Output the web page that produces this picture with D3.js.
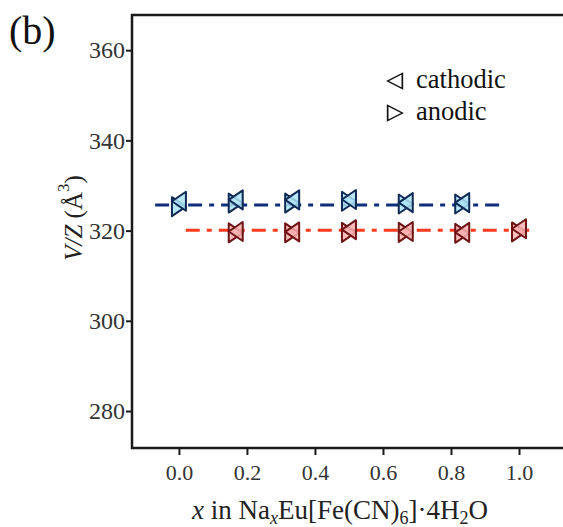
<!DOCTYPE html>
<html>
<head>
<meta charset="utf-8">
<script src="https://cdn.jsdelivr.net/npm/d3@7"></script>
<style>
  html, body { margin: 0; padding: 0; background: #fff; }
  svg { display: block; }
</style>
</head>
<body>
<svg id="chart" width="563" height="527"></svg>
<script>
// Sodium content x and unit-cell volume per formula unit V/Z (Å^3)
const xBlue = [0.0, 0.167, 0.333, 0.5, 0.667, 0.833];
const blueCathodic = [326.5, 326.8, 326.8, 326.9, 326.2, 326.2];
const blueAnodic   = [325.3, 326.1, 326.1, 326.5, 325.9, 325.9];
const blueMean = 325.7;

const xRed = [0.167, 0.333, 0.5, 0.667, 0.833, 1.0];
const redCathodic = [319.8, 319.7, 320.2, 319.8, 319.6, 320.4];
const redAnodic   = [319.5, 319.5, 319.6, 319.6, 319.4, 319.7];
const redMean = 320.1;

const xTicks = [0.0, 0.2, 0.4, 0.6, 0.8, 1.0];
const yTicks = [280, 300, 320, 340, 360];

const svg = d3.select("#chart");
const plotLeft = 132, plotTop = 15, plotBottom = 448, plotRight = 620;

const x = d3.scaleLinear().domain([-0.138, 1.297]).range([plotLeft, plotRight]);
const y = d3.scaleLinear().domain([271.8, 367.8]).range([plotBottom, plotTop]);

const serif = "'Liberation Serif', 'Times New Roman', serif";

// frame
svg.append("rect")
  .attr("x", plotLeft).attr("y", plotTop)
  .attr("width", plotRight - plotLeft).attr("height", plotBottom - plotTop)
  .attr("fill", "none").attr("stroke", "#1a1a1a").attr("stroke-width", 2.5);

// axes
const yAxis = svg.append("g")
  .attr("transform", `translate(${plotLeft},0)`)
  .call(d3.axisLeft(y).tickValues(yTicks).tickSize(6).tickPadding(1).tickFormat(d3.format("d")));
const xAxis = svg.append("g")
  .attr("transform", `translate(0,${plotBottom})`)
  .call(d3.axisBottom(x).tickValues(xTicks).tickSize(7).tickPadding(9).tickFormat(d3.format(".1f")));
[xAxis, yAxis].forEach(g => {
  g.select(".domain").remove();
  g.selectAll(".tick line").attr("stroke", "#1a1a1a").attr("stroke-width", 2);
  g.selectAll(".tick text").attr("fill", "#333").style("font-family", serif);
});
yAxis.selectAll(".tick text").style("font-size", "24px");
xAxis.selectAll(".tick text").style("font-size", "22px");

// triangle paths: left-pointing (cathodic) and right-pointing (anodic)
const tw = 14, th = 19;
const triLeft = `M${tw/2},${-th/2}L${tw/2},${th/2}L${-tw/2},0Z`;
const triRight = `M${-tw/2},${-th/2}L${-tw/2},${th/2}L${tw/2},0Z`;

function series(xs, cath, anod, mean, lineColor, fill, stroke, x0, x1) {
  svg.append("line")
    .attr("x1", x(x0)).attr("x2", x(x1))
    .attr("y1", y(mean)).attr("y2", y(mean))
    .attr("stroke", lineColor).attr("stroke-width", 3)
    .attr("stroke-dasharray", "14,7,5,7");
  const g = svg.append("g");
  g.selectAll("path.a").data(xs).join("path")
    .attr("d", triRight)
    .attr("transform", (d, i) => `translate(${x(d)},${y(anod[i])})`)
    .attr("fill", fill).attr("fill-opacity", 0.85)
    .attr("stroke", stroke).attr("stroke-width", 2).attr("stroke-linejoin", "round");
  g.selectAll("path.c").data(xs).join("path")
    .attr("d", triLeft)
    .attr("transform", (d, i) => `translate(${x(d)},${y(cath[i])})`)
    .attr("fill", fill).attr("fill-opacity", 0.85)
    .attr("stroke", stroke).attr("stroke-width", 2).attr("stroke-linejoin", "round");
}

series(xBlue, blueCathodic, blueAnodic, blueMean, "#0f2f7a", "#aee3f5", "#0e2a55", -0.07, 0.96);
series(xRed, redCathodic, redAnodic, redMean, "#ff3a1e", "#f9b0b0", "#6e1414", 0.02, 1.03);

// legend
const legend = [
  { label: "cathodic", path: triLeft, y: 81 },
  { label: "anodic", path: triRight, y: 113 }
];
legend.forEach(d => {
  svg.append("path")
    .attr("d", d.path)
    .attr("transform", `translate(395,${d.y}) scale(1.05,0.8)`)
    .attr("fill", "none").attr("stroke", "#111").attr("stroke-width", 1.6);
  svg.append("text")
    .attr("x", 416).attr("y", d.y + 7)
    .style("font-family", serif).style("font-size", "26.5px").attr("fill", "#111")
    .text(d.label);
});

// panel label
svg.append("text").attr("x", 9).attr("y", 44)
  .style("font-family", serif).style("font-size", "40px").attr("fill", "#111")
  .text("(b)");

// y axis title
const yt = svg.append("text")
  .attr("transform", `translate(82,${218}) rotate(-90)`)
  .attr("text-anchor", "middle")
  .style("font-family", serif).style("font-size", "25px").attr("fill", "#222");
yt.append("tspan").style("font-style", "italic").text("V/Z");
yt.append("tspan").text(" (Å");
yt.append("tspan").attr("dy", -13).style("font-size", "17px").text("3");
yt.append("tspan").attr("dy", 13).text(")");

// x axis title
const xt = svg.append("text")
  .attr("x", 340).attr("y", 519)
  .attr("text-anchor", "middle")
  .style("font-family", serif).style("font-size", "27px").attr("fill", "#222");
xt.append("tspan").style("font-style", "italic").text("x");
xt.append("tspan").text(" in Na");
xt.append("tspan").attr("dy", 5).style("font-size", "18px").style("font-style", "italic").text("x");
xt.append("tspan").attr("dy", -5).text("Eu[Fe(CN)");
xt.append("tspan").attr("dy", 5).style("font-size", "18px").text("6");
xt.append("tspan").attr("dy", -5).text("]·4H");
xt.append("tspan").attr("dy", 5).style("font-size", "18px").text("2");
xt.append("tspan").attr("dy", -5).text("O");
</script>
</body>
</html>
